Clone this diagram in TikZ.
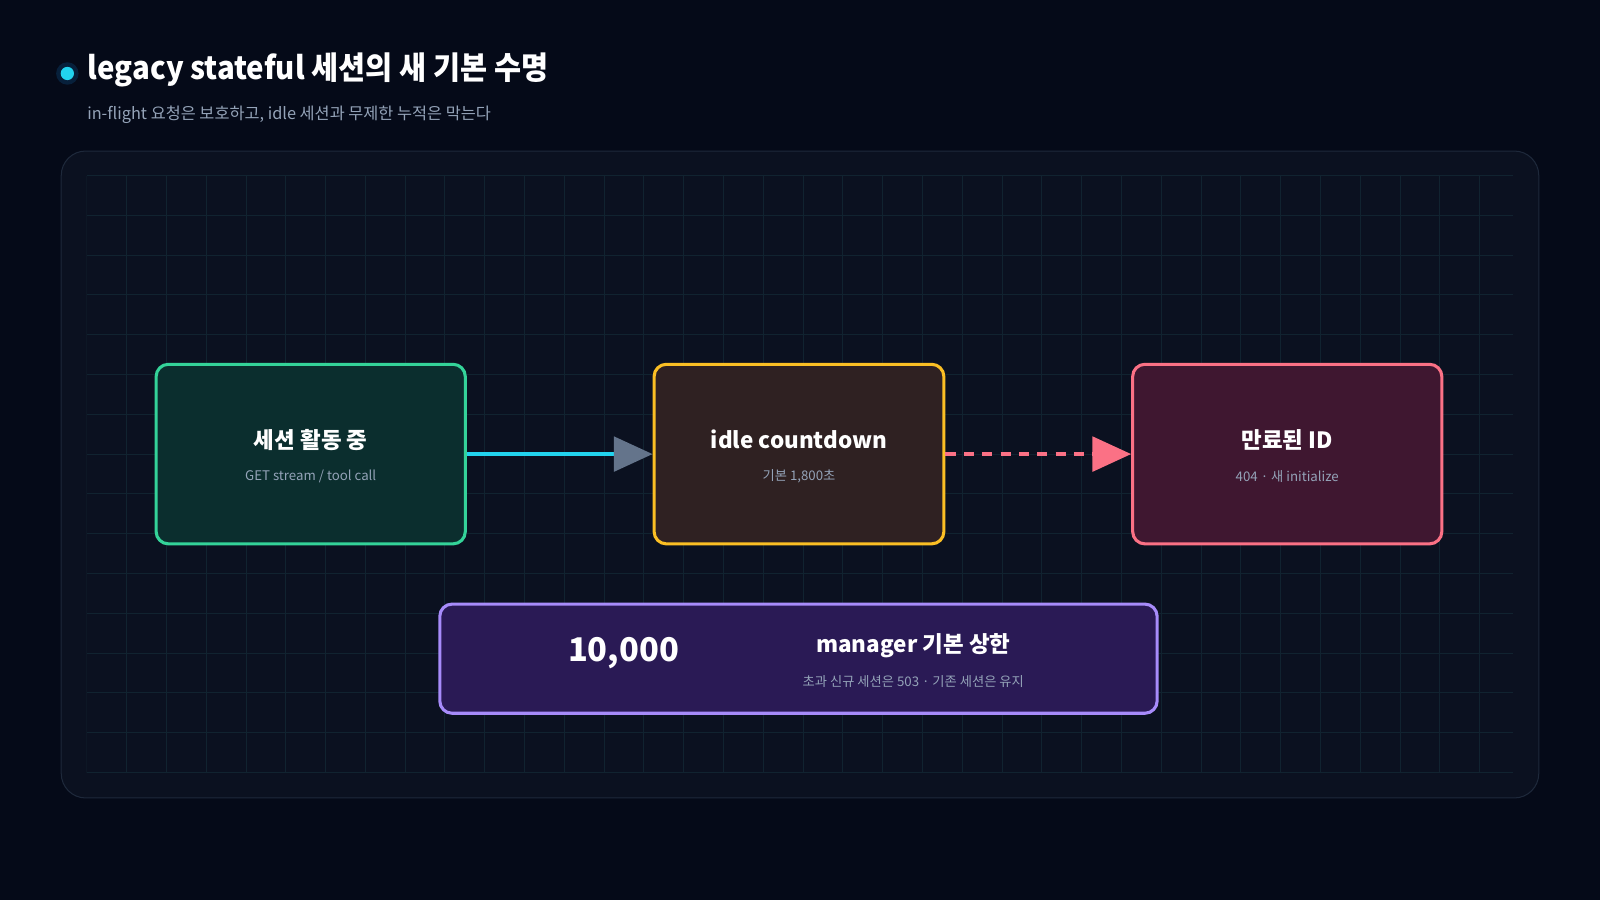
\documentclass[tikz,border=0pt]{standalone}
\usepackage{fontspec}
\setmainfont{Noto Sans CJK KR}
\usetikzlibrary{arrows.meta}
\definecolor{bg}{HTML}{050A18}
\definecolor{panel}{HTML}{0B1120}
\definecolor{panelb}{HTML}{1E293B}
\definecolor{gridc}{HTML}{112330}
\definecolor{sub}{HTML}{94A3B8}
\tikzset{
 box/.style={draw, line width=3pt, rounded corners=12pt, minimum height=176pt},
 ttl/.style={text=white, font=\fontsize{22}{26}\selectfont\bfseries},
 st/.style={text=sub, font=\fontsize{13}{16}\selectfont},
}
\begin{document}
\begin{tikzpicture}[x=1pt,y=-1pt]
\fill[bg] (0,0) rectangle (1568,882);
\useasboundingbox (0,0) rectangle (1568,882);
\fill[cyan!60!blue, opacity=0.2] (66,72) circle (11);
\fill[fill={rgb,255:red,34;green,211;blue,238}] (66,72) circle (6.5);
\node[anchor=west, text=white, font=\fontsize{31}{36}\selectfont\bfseries, xscale=0.93, inner xsep=0pt] (title) at (86,69) {legacy stateful 세션의 새 기본 수명};
\node[anchor=west, text=sub, font=\fontsize{16}{20}\selectfont] (subt) at (82,112) {in-flight 요청은 보호하고, idle 세션과 무제한 누적은 막는다};
\draw[panelb, fill=panel, rounded corners=24pt, line width=1pt] (60,148) rectangle (1508,782);
\begin{scope}
\clip (85,172) rectangle (1483,758);
\foreach \i in {0,...,36} \draw[gridc, line width=0.8pt] (85+39*\i,172) -- (85+39*\i,758);
\foreach \j in {0,...,15} \draw[gridc, line width=0.8pt] (85,172+39*\j) -- (1483,172+39*\j);
\end{scope}
\node[box, draw={rgb,255:red,52;green,211;blue,153}, fill={rgb,255:red,11;green,46;blue,46}, minimum width=303pt] (a) at (304.5,445) {};
\node[ttl] at (304.5,431) {세션 활동 중};
\node[st] at (304.5,467) {GET stream / tool call};
\node[box, draw={rgb,255:red,251;green,191;blue,36}, fill={rgb,255:red,47;green,33;blue,34}, minimum width=284pt] (b) at (783,445) {};
\node[ttl] at (783,431) {idle countdown};
\node[st] at (783,467) {기본 1,800초};
\node[box, draw={rgb,255:red,251;green,113;blue,133}, fill={rgb,255:red,63;green,23;blue,48}, minimum width=303pt] (c) at (1261.5,445) {};
\node[ttl] at (1261.5,431) {만료된 ID};
\node[st] at (1261.5,467) {404 · 새 initialize};
\node[box, draw={rgb,255:red,167;green,139;blue,250}, fill={rgb,255:red,42;green,26;blue,85}, minimum width=703pt, minimum height=107pt] (d) at (782.5,645.5) {};
\node[text=white, font=\fontsize{32}{36}\selectfont\bfseries] at (611,640) {10,000};
\node[ttl] at (895,633) {manager 기본 상한};
\node[st] at (895,668) {초과 신규 세션은 503 · 기존 세션은 유지};
\draw[line width=3.5pt, draw={rgb,255:red,34;green,211;blue,238}, -{Triangle[length=38pt,width=34pt,fill={rgb,255:red,100;green,116;blue,139},color={rgb,255:red,100;green,116;blue,139}]}] (a.east) -- (b.west);
\draw[line width=3.5pt, dash pattern=on 10pt off 8pt, draw={rgb,255:red,251;green,113;blue,133}, -{Triangle[length=38pt,width=34pt]}] (b.east) -- (c.west);
\end{tikzpicture}
\end{document}
